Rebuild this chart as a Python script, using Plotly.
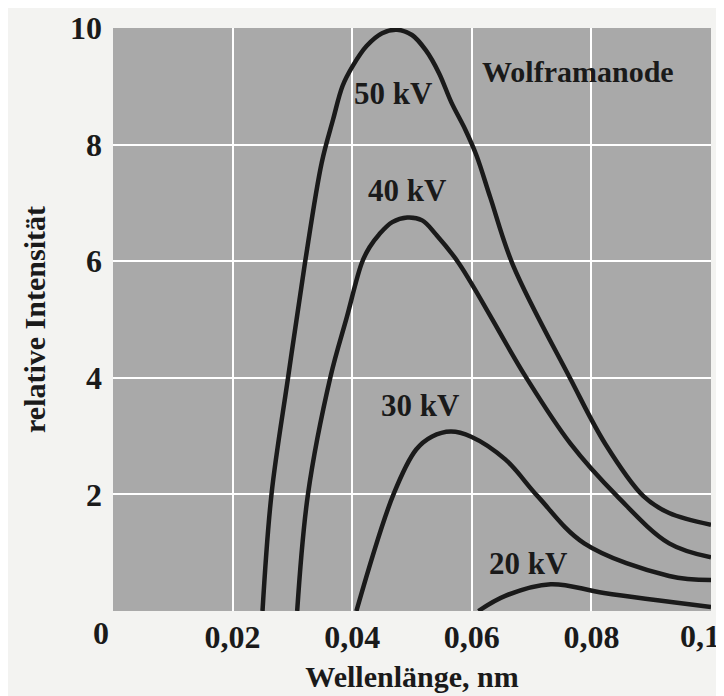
import plotly.graph_objects as go

# Wavelength (nm) and relative intensity for each tube voltage
x_50kv = [0.0250, 0.0265, 0.0293, 0.0321, 0.0349, 0.0368, 0.0384, 0.0401, 0.0424, 0.0450, 0.0475, 0.0500, 0.0523, 0.0545, 0.0566, 0.0589, 0.0608, 0.0631, 0.0669, 0.0765, 0.0823, 0.0887, 0.0930, 0.1000]
y_50kv = [0.0, 2.0, 4.02, 5.97, 7.69, 8.43, 9.01, 9.35, 9.69, 9.91, 9.97, 9.88, 9.62, 9.23, 8.72, 8.26, 7.81, 7.09, 5.93, 3.98, 2.87, 1.97, 1.68, 1.48]

x_40kv = [0.0308, 0.0326, 0.0364, 0.0391, 0.0416, 0.0429, 0.0445, 0.0467, 0.0492, 0.0517, 0.0540, 0.0578, 0.0690, 0.0765, 0.0843, 0.0930, 0.1000]
y_40kv = [0.0, 2.0, 4.03, 5.04, 5.97, 6.24, 6.46, 6.67, 6.75, 6.70, 6.46, 5.97, 4.02, 2.87, 1.97, 1.16, 0.92]

x_30kv = [0.0407, 0.0469, 0.0507, 0.0533, 0.0565, 0.0599, 0.0656, 0.0710, 0.0788, 0.0930, 0.1000]
y_30kv = [0.0, 2.0, 2.77, 2.99, 3.08, 2.99, 2.60, 1.97, 1.16, 0.60, 0.53]

x_20kv = [0.0611, 0.0656, 0.0732, 0.0821, 0.1000]
y_20kv = [0.0, 0.26, 0.46, 0.31, 0.07]

series_names = ["50 kV", "40 kV", "30 kV", "20 kV"]

x_tickvals = [0.02, 0.04, 0.06, 0.08, 0.1]
x_ticktext = ["0,02", "0,04", "0,06", "0,08", "0,1"]
y_tickvals = [2, 4, 6, 8, 10]
y_ticktext = ["2", "4", "6", "8", "10"]

FONT = "Liberation Serif"
INK = "#1a1a1a"

fig = go.Figure()
for xs, ys, name in zip([x_50kv, x_40kv, x_30kv, x_20kv],
                        [y_50kv, y_40kv, y_30kv, y_20kv], series_names):
    fig.add_trace(go.Scatter(x=xs, y=ys, mode="lines", name=name,
                             line=dict(color=INK, width=4.5, shape="spline", smoothing=1.0),
                             showlegend=False, hoverinfo="skip"))

label_pos = {"50 kV": (0.0469, 8.87), "40 kV": (0.0492, 7.21),
             "30 kV": (0.0515, 3.52), "20 kV": (0.0695, 0.82)}
for name in series_names:
    lx, ly = label_pos[name]
    fig.add_annotation(x=lx, y=ly, text="<b>%s</b>" % name, showarrow=False,
                       font=dict(family=FONT, size=31, color=INK))

fig.add_annotation(x=0.0778, y=9.26, text="<b>Wolframanode</b>", showarrow=False,
                   font=dict(family=FONT, size=30, color=INK))

# shared origin label
fig.add_annotation(x=0, y=0, xref="x", yref="y", text="<b>0</b>", showarrow=False,
                   xshift=-12, yshift=-22,
                   font=dict(family=FONT, size=32, color=INK))

# last x tick label sits at the right edge: draw it right-anchored so it is not cut
shown_ticktext = x_ticktext[:-1] + [""]
fig.add_annotation(x=x_tickvals[-1], y=0, xref="x", yref="y", text="<b>%s</b>" % x_ticktext[-1],
                   showarrow=False, xanchor="right", yanchor="middle",
                   xshift=11, yshift=-25,
                   font=dict(family=FONT, size=32, color=INK))

# the page body has an 8px default margin, so the figure is offset by 8px
fig.update_layout(
    width=716, height=688,
    margin=dict(l=105, r=13, t=20, b=85),
    paper_bgcolor="#f3f3f1",
    plot_bgcolor="#a9a9a9",
    font=dict(family=FONT, color=INK),
    xaxis=dict(range=[0, 0.1], tickvals=x_tickvals, ticktext=shown_ticktext,
               showgrid=True, gridcolor="white", gridwidth=2,
               zeroline=False, showline=False, ticks="",
               automargin=False, ticklabeloverflow="allow",
               ticklabelstandoff=4,
               tickfont=dict(family=FONT, size=32, color=INK, weight="bold"),
               title=dict(text="<b>Wellenlänge, nm</b>", standoff=11,
                          font=dict(family=FONT, size=30, color=INK))),
    yaxis=dict(range=[0, 10], tickvals=y_tickvals, ticktext=y_ticktext,
               showgrid=True, gridcolor="white", gridwidth=2,
               zeroline=False, showline=False, ticks="",
               automargin=False, ticklabeloverflow="allow",
               ticklabelstandoff=10,
               tickfont=dict(family=FONT, size=32, color=INK, weight="bold"),
               title=dict(text="<b>relative Intensität</b>", standoff=15,
                          font=dict(family=FONT, size=30, color=INK))),
)

fig.write_html("out.html")
